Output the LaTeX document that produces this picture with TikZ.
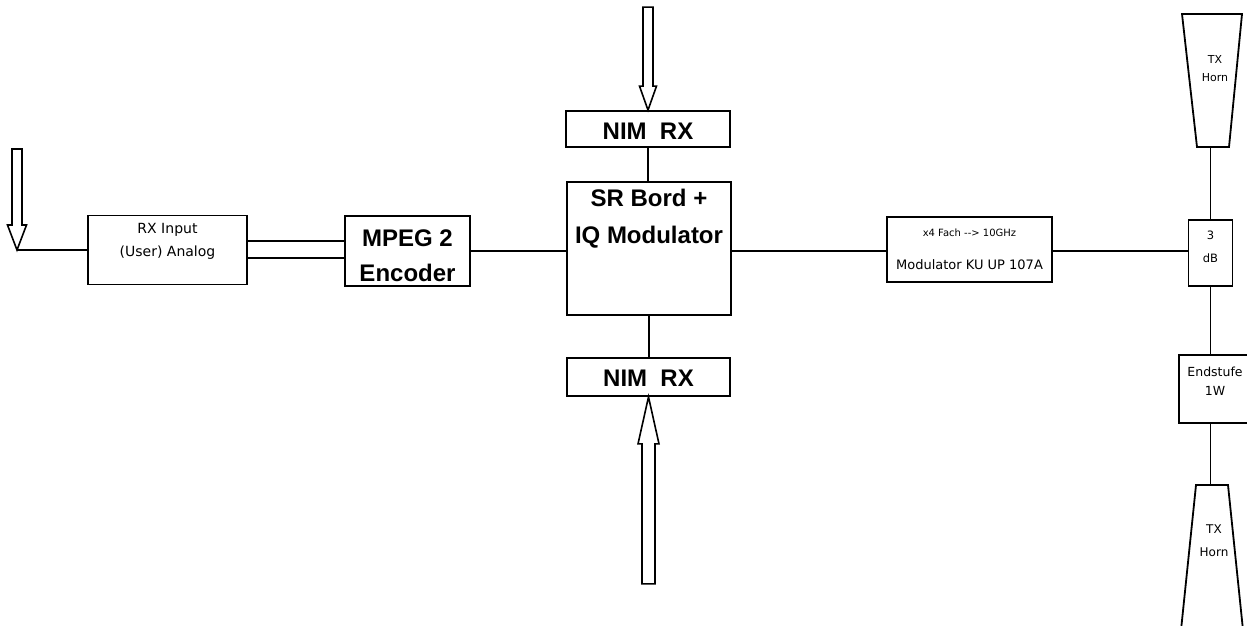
\documentclass[tikz,border=0pt]{standalone}
\usepackage{fontspec}
\setmainfont{Liberation Sans}
\newfontfamily\pixfont{DejaVu Sans}
\usetikzlibrary{positioning}

\tikzset{
  blk/.style={draw, line width=1.8pt, inner sep=0pt},
  wire/.style={line width=1.8pt},
  bigtxt/.style={font=\bfseries\fontsize{24}{35}\selectfont, align=center, inner sep=0pt},
  smalltxt/.style={font=\pixfont\fontsize{14}{23}\selectfont, align=center, inner sep=0pt},
  % hollow input arrow: length, head length, half shaft, half head
  pics/inarrow/.style n args={4}{code={%
    \draw[line width=1.6pt, fill=white] (0,0) -- (-#4,-#2) -- (-#3,-#2) -- (-#3,-#1)
      -- (#3,-#1) -- (#3,-#2) -- (#4,-#2) -- cycle;}},
}

\begin{document}
\begin{tikzpicture}[x=1pt, y=-1pt]
  \useasboundingbox (0,0) rectangle (1247,625);
  \clip (0,0) rectangle (1247,625);

  % blocks
  \node[blk, minimum width=159pt, minimum height=69pt,
    label={[smalltxt, yshift=9pt]center:{RX Input\\(User) Analog}}] (rxin) at (167.5,250) {};
  \node[blk, minimum width=125pt, minimum height=70pt,
    label={[bigtxt, yshift=-4.5pt]center:{MPEG 2\\Encoder}}] (mpeg) at (407.5,251) {};
  \node[blk, minimum width=164pt, minimum height=133pt,
    label={[bigtxt, font=\bfseries\fontsize{24}{37}\selectfont, yshift=30pt]center:{SR Bord +\\IQ Modulator}}] (sr) at (649,248.5) {};
  \node[blk, minimum width=164pt, minimum height=36pt,
    label={[bigtxt, yshift=-2.5pt]center:{NIM~~RX}}] (nimtop) at (648,129) {};
  \node[blk, minimum width=163pt, minimum height=38pt,
    label={[bigtxt, yshift=-1pt]center:{NIM~~RX}}] (nimbot) at (648.5,377) {};
  \node[blk, minimum width=165pt, minimum height=65pt,
    label={[smalltxt, font=\pixfont\fontsize{13}{33}\selectfont]center:{{\fontsize{10}{33}\selectfont x4 Fach -{}-{}> 10GHz}\\Modulator KU UP 107A}}] (kumod) at (969.5,249.5) {};
  \node[blk, minimum width=44pt, minimum height=66pt,
    label={[smalltxt, font=\pixfont\fontsize{11.5}{23}\selectfont, yshift=6.5pt]center:{3\\dB}}] (db) at (1210.5,253) {};
  \node[blk, minimum width=72pt, minimum height=68pt,
    label={[smalltxt, font=\pixfont\fontsize{12.5}{19}\selectfont, yshift=7.5pt]center:{Endstufe\\1W}}] (endst) at (1215,389) {};

  % horns
  \draw[wire] (1182,14) -- (1242,14) -- (1229,147) -- (1197,147) -- cycle;
  \coordinate (hornA) at (1212,147);
  \node[smalltxt, font=\pixfont\fontsize{11}{18}\selectfont] (hornAtxt) at (1215,69) {TX\\Horn};
  \draw[wire] (1181,630) -- (1196,485) -- (1228,485) -- (1243,630);
  \coordinate (hornB) at (1212,485);
  \node[smalltxt, font=\pixfont\fontsize{12}{23}\selectfont] (hornBtxt) at (1214,541) {TX\\Horn};

  % connections
  \coordinate (ant) at (17,250);
  \draw[wire] (ant) -- (rxin.west);
  \draw[wire] ([yshift=9pt]rxin.east) -- ([yshift=9pt]rxin.east -| mpeg.west);
  \draw[wire] ([yshift=-8pt]rxin.east) -- ([yshift=-8pt]rxin.east -| mpeg.west);
  \draw[wire] (mpeg.east) -- (mpeg.east -| sr.west);
  \draw[wire] (nimtop.south) -- (nimtop.south |- sr.north);
  \draw[wire] (sr.south) -- (sr.south |- nimbot.north);
  \draw[wire] (mpeg.east -| sr.east) -- (mpeg.east -| kumod.west);
  \draw[wire] (mpeg.east -| kumod.east) -- (mpeg.east -| db.west);
  \draw[wire] (db.north |- hornA) -- (db.north);
  \draw[wire] (db.south) -- (db.south |- endst.north);
  \draw[wire] (db.south |- endst.south) -- (db.south |- hornB);

  % inputs
  \pic at (ant) {inarrow={101}{25}{5}{9.5}};
  \pic at (nimtop.north) {inarrow={103}{24}{5}{8.5}};
  \pic[rotate=180] at (nimbot.south) {inarrow={187}{47}{6.5}{10.5}};
\end{tikzpicture}
\end{document}
